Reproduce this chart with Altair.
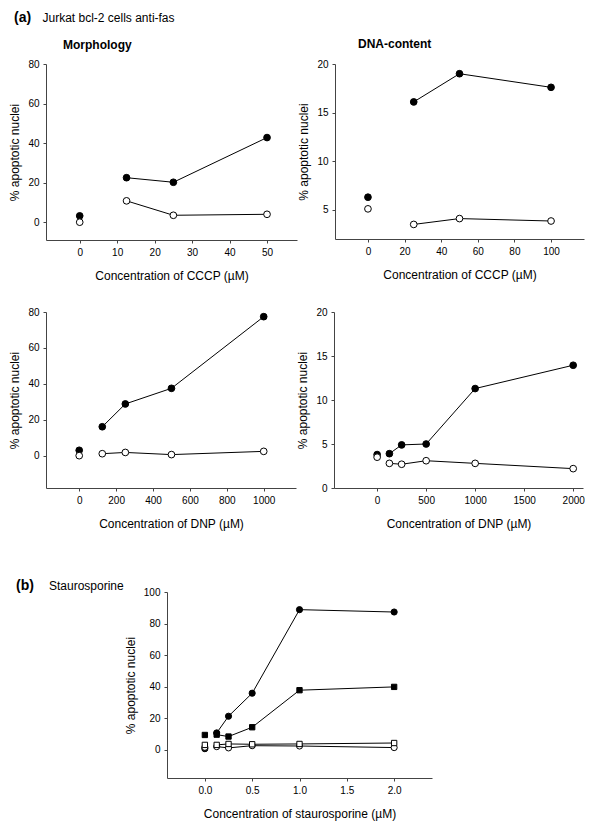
import altair as alt
import pandas as pd

# ---------------- data ----------------
cccp_morph_x = [0, 12.5, 25, 50]
cccp_morph_filled = [3.2, 22.5, 20.2, 42.8]
cccp_morph_open = [0.0, 10.8, 3.5, 4.0]

cccp_dna_x = [0, 25, 50, 100]
cccp_dna_filled = [6.3, 16.1, 19.0, 17.6]
cccp_dna_open = [5.1, 3.5, 4.1, 3.85]

dnp_morph_x = [0, 125, 250, 500, 1000]
dnp_morph_filled = [3.0, 16.1, 28.8, 37.5, 77.4]
dnp_morph_open = [0.0, 1.1, 1.8, 0.6, 2.4]

dnp_dna_x = [0, 125, 250, 500, 1000, 2000]
dnp_dna_filled = [3.8, 3.9, 4.9, 5.0, 11.3, 13.95]
dnp_dna_open = [3.5, 2.8, 2.7, 3.1, 2.8, 2.2]

stauro_x = [0, 0.125, 0.25, 0.5, 1.0, 2.0]
stauro_filled_circle = [0.6, 10.6, 21.2, 35.8, 88.8, 87.3]
stauro_filled_square = [9.3, 9.5, 8.3, 14.2, 37.7, 39.8]
stauro_open_circle = [1.5, 1.9, 1.1, 2.5, 2.3, 1.3]
stauro_open_square = [3.0, 3.0, 3.6, 3.4, 3.6, 4.2]

FONT = "Liberation Sans"
YTITLE = "% apoptotic nuclei"


def panel(x, series, xdom, xvals, ydom, yvals, xtitle, w, h, xfmt="d",
          texts=(), msize=45):
    X = alt.X("x:Q", scale=alt.Scale(domain=xdom, nice=False, zero=False),
              axis=alt.Axis(values=xvals, title=xtitle, format=xfmt))
    Y = alt.Y("y:Q", scale=alt.Scale(domain=ydom, nice=False, zero=False),
              axis=alt.Axis(values=yvals, title=YTITLE, format="d"))
    lines, points = [], []
    for ys, shape, filled in series:
        df = pd.DataFrame({"x": x, "y": ys})
        base = alt.Chart(df)
        lines.append(base.transform_filter("datum.x > 0")
                     .mark_line(color="black", strokeWidth=1)
                     .encode(x=X, y=Y))
        sz = msize if shape == "circle" else msize * 0.75
        points.append(base.mark_point(shape=shape, filled=True,
                                      fill="black" if filled else "white",
                                      stroke="black", strokeWidth=1,
                                      opacity=1, size=sz)
                      .encode(x=X, y=Y))
    txt = []
    for t, dx, dy, fs, fw in texts:
        txt.append(alt.Chart(pd.DataFrame({"t": [t]}))
                   .mark_text(align="left", baseline="middle", fontSize=fs,
                              fontWeight=fw, font=FONT, color="black")
                   .encode(text="t:N", x=alt.value(dx), y=alt.value(dy)))
    return alt.layer(*lines, *points, *txt).properties(width=w, height=h)


def blank(w, h):
    return (alt.Chart(pd.DataFrame({"a": [0]}))
            .mark_point(opacity=0, size=1)
            .encode(x=alt.value(1), y=alt.value(1))
            .properties(width=w, height=h))


p1 = panel(cccp_morph_x,
           [(cccp_morph_filled, "circle", True), (cccp_morph_open, "circle", False)],
           [-9, 58], [0, 10, 20, 30, 40, 50], [-9, 80], [0, 20, 40, 60, 80],
           "Concentration of CCCP (µM)", 251, 176,
           texts=[("(a)", -32, -46.3, 14, "bold"),
                  ("Jurkat bcl-2 cells anti-fas", -3.5, -46.3, 12, "normal"),
                  ("Morphology", 17, -19, 12, "bold")])

p2 = panel(cccp_dna_x,
           [(cccp_dna_filled, "circle", True), (cccp_dna_open, "circle", False)],
           [-18, 118], [0, 20, 40, 60, 80, 100], [2, 20], [5, 10, 15, 20],
           "Concentration of CCCP (µM)", 249, 175,
           texts=[("DNA-content", 23, -20, 12, "bold")])

p3 = panel(dnp_morph_x,
           [(dnp_morph_filled, "circle", True), (dnp_morph_open, "circle", False)],
           [-180, 1175], [0, 200, 400, 600, 800, 1000], [-18, 80], [0, 20, 40, 60, 80],
           "Concentration of DNP (µM)", 250, 176)

p4 = panel(dnp_dna_x,
           [(dnp_dna_filled, "circle", True), (dnp_dna_open, "circle", False)],
           [-440, 2100], [0, 500, 1000, 1500, 2000], [0, 20], [0, 5, 10, 15, 20],
           "Concentration of DNP (µM)", 249, 176)

p5 = panel(stauro_x,
           [(stauro_filled_circle, "circle", True), (stauro_filled_square, "square", True),
            (stauro_open_circle, "circle", False), (stauro_open_square, "square", False)],
           [-0.4, 2.4], [0, 0.5, 1.0, 1.5, 2.0], [-18, 100], [0, 20, 40, 60, 80, 100],
           "Concentration of staurosporine (µM)", 265, 186, xfmt=".1f",
           texts=[("(b)", -151, -6, 14, "bold"),
                  ("Staurosporine", -118, -6, 12, "normal")],
           msize=38)

row1 = alt.hconcat(p1, p2, spacing=38, bounds="flush")
row2 = alt.hconcat(p3, p4, spacing=38, bounds="flush")
row3 = alt.hconcat(blank(1, 186), p5, spacing=120, bounds="flush")

chart = (alt.vconcat(row1, blank(1, 16), row2, blank(1, 40), row3, spacing=5)
         .properties(padding={"left": 0, "top": 2, "right": 0, "bottom": 6})
         .configure(font=FONT)
         .configure_view(stroke=None)
         .configure_axis(grid=False, domainColor="#444", tickColor="#444",
                         tickSize=3, labelFont=FONT, labelFontSize=10,
                         labelColor="black", labelPadding=4,
                         titleFont=FONT, titleFontSize=12,
                         titleFontWeight="normal", titleColor="black")
         .configure_axisX(titlePadding=13)
         .configure_axisY(titlePadding=6))

chart.save("out.html", embed_options={"renderer": "svg", "actions": False})
